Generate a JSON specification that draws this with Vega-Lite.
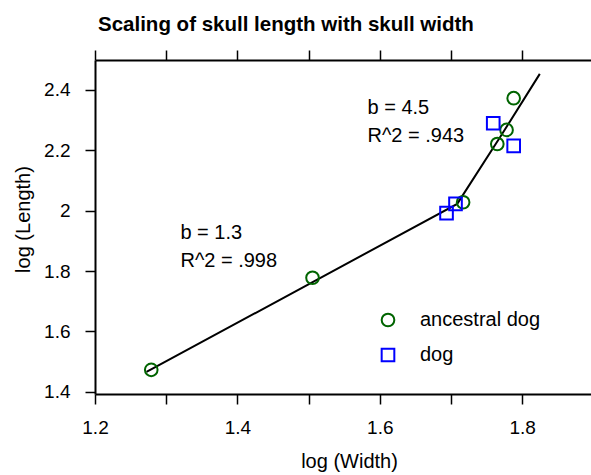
{
  "$schema": "https://vega.github.io/schema/vega-lite/v6.json",
  "width": 496,
  "height": 334,
  "autosize": {"type": "none"},
  "padding": {"left": 95, "top": 60, "right": 0, "bottom": 81},
  "config": {
    "font": "Liberation Sans",
    "view": {"stroke": null},
    "axis": {"grid": false, "domainColor": "black", "tickColor": "black", "labelColor": "black", "titleColor": "black", "domainWidth": 2, "tickWidth": 1.5, "labelFlush": false, "labelOverlap": false, "labelFontSize": 19, "titleFontSize": 20, "titleFontWeight": "normal"}
  },
  "title": {"text": "Scaling of skull length with skull width", "anchor": "start", "frame": "group", "dx": 3, "fontSize": 20.5, "fontWeight": "bold", "color": "black", "baseline": "alphabetic", "offset": -2},
  "datasets": {
    "points": [
      {"x": 1.279, "y": 1.473, "group": "ancestral dog"},
      {"x": 1.5055, "y": 1.778, "group": "ancestral dog"},
      {"x": 1.717, "y": 2.028, "group": "ancestral dog"},
      {"x": 1.765, "y": 2.221, "group": "ancestral dog"},
      {"x": 1.778, "y": 2.2675, "group": "ancestral dog"},
      {"x": 1.788, "y": 2.3725, "group": "ancestral dog"},
      {"x": 1.6937, "y": 1.9917, "group": "dog"},
      {"x": 1.7063, "y": 2.0225, "group": "dog"},
      {"x": 1.7593, "y": 2.2897, "group": "dog"},
      {"x": 1.788, "y": 2.2146, "group": "dog"}
    ],
    "fit": [
      {"x": 1.2723, "y": 1.4662},
      {"x": 1.7087, "y": 2.0225},
      {"x": 1.7695, "y": 2.2454},
      {"x": 1.8247, "y": 2.453}
    ],
    "notes": [
      {"x": 1.32, "y": 1.9265, "label": "b = 1.3"},
      {"x": 1.32, "y": 1.8338, "label": "R^2 = .998"},
      {"x": 1.5827, "y": 2.3404, "label": "b = 4.5"},
      {"x": 1.5827, "y": 2.2477, "label": "R^2 = .943"}
    ]
  },
  "layer": [
    {
      "data": {"name": "fit"},
      "mark": {"type": "line", "color": "black", "strokeWidth": 2},
      "encoding": {
        "x": {"field": "x", "type": "quantitative", "scale": {"domain": [1.2, 1.8966], "nice": false, "zero": false},
          "axis": {"orient": "bottom", "title": "log (Width)", "values": [1.2, 1.3, 1.4, 1.5, 1.6, 1.7, 1.8], "tickSize": 10, "labelPadding": 14,
            "labelExpr": "abs(round(datum.value*10)) % 2 == 0 ? format(datum.value, '.1f') : ''",
            "titleX": 254, "titleY": 73.5, "titleBaseline": "alphabetic"}},
        "y": {"field": "y", "type": "quantitative", "scale": {"domain": [1.393, 2.499], "nice": false, "zero": false},
          "axis": {"title": "log (Length)", "values": [1.4, 1.5, 1.6, 1.7, 1.8, 1.9, 2.0, 2.1, 2.2, 2.3, 2.4],
            "tickSize": {"condition": {"test": "abs(round(datum.value*10)) % 2 == 0", "value": 10}, "value": -3},
            "labelPadding": 15,
            "labelExpr": "abs(round(datum.value*10)) % 2 == 0 ? format(datum.value, '~g') : ''",
            "titleX": -66, "titleY": 159, "titleBaseline": "alphabetic", "titleAngle": -90}}
      }
    },
    {
      "data": {"name": "points"},
      "mark": {"type": "point", "filled": false, "strokeWidth": 2, "size": 160, "opacity": 1},
      "encoding": {
        "x": {"field": "x", "type": "quantitative", "axis": null},
        "y": {"field": "y", "type": "quantitative"},
        "shape": {"field": "group", "type": "nominal", "scale": {"domain": ["ancestral dog", "dog"], "range": ["circle", "square"]},
          "legend": {"orient": "none", "legendX": 283, "legendY": 250, "title": null, "labelFontSize": 20, "labelColor": "black", "symbolSize": 160, "symbolStrokeWidth": 2, "symbolOpacity": 1, "labelOffset": 22, "rowPadding": 13, "padding": 0}},
        "color": {"field": "group", "type": "nominal", "scale": {"domain": ["ancestral dog", "dog"], "range": ["#006400", "#0000ff"]},
          "legend": {"orient": "none", "legendX": 283, "legendY": 250, "title": null, "labelFontSize": 20, "labelColor": "black", "symbolSize": 160, "symbolStrokeWidth": 2, "symbolOpacity": 1, "labelOffset": 22, "rowPadding": 13, "padding": 0}}
      }
    },
    {
      "data": {"name": "notes"},
      "mark": {"type": "text", "align": "left", "baseline": "middle", "fontSize": 20, "color": "black"},
      "encoding": {
        "x": {"field": "x", "type": "quantitative", "axis": null},
        "y": {"field": "y", "type": "quantitative"},
        "text": {"field": "label", "type": "nominal"}
      }
    },
    {
      "data": {"name": "points"},
      "mark": {"type": "point", "opacity": 0},
      "encoding": {
        "x": {"field": "x", "type": "quantitative", "axis": {"orient": "top", "title": null, "labels": false, "values": [1.2, 1.3, 1.4, 1.5, 1.6, 1.7, 1.8], "tickSize": 10}},
        "y": {"field": "y", "type": "quantitative"}
      }
    }
  ],
  "resolve": {"axis": {"x": "independent"}}
}
